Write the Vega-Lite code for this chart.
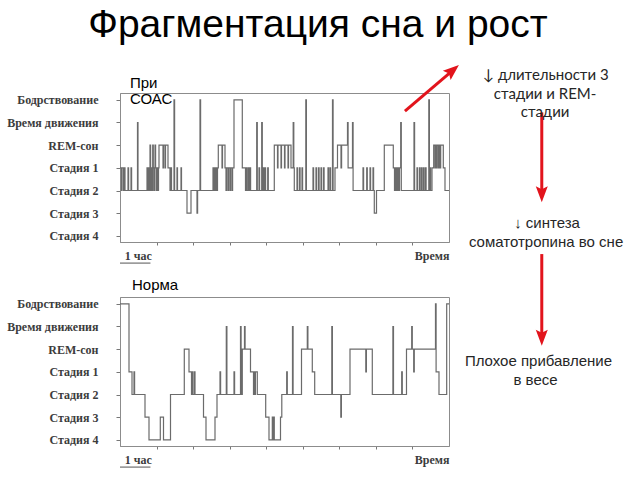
{
  "$schema": "https://vega.github.io/schema/vega-lite/v6.json",
  "background": "white",
  "padding": {"left": 6, "top": 5, "right": 0, "bottom": 0},
  "title": {"text": "Фрагментация сна и рост", "font": "Liberation Sans", "fontSize": 39, "fontWeight": "normal", "color": "#000000", "anchor": "middle", "dx": 3, "offset": 20},
  "bounds": "flush",
  "spacing": 55,
  "config": {
    "view": {"stroke": "#8c8c8c", "strokeWidth": 1},
    "axis": {"grid": false}
  },
  "vconcat": [
    {
      "width": 329,
      "height": 149,
      "resolve": {"scale": {"x": "independent", "y": "independent"}},
      "layer": [
        {
          "encoding": {
            "x": {"field": "t", "type": "quantitative", "scale": {"domain": [0, 540], "nice": false, "zero": false},
              "axis": {"values": [60, 120, 180, 240, 300, 360, 420, 480], "labels": false, "tickSize": 3, "tickColor": "#777777", "domainColor": "#8c8c8c", "title": "Время", "titleAnchor": "end", "titleAlign": "right", "titleFont": "Liberation Serif", "titleFontWeight": "bold", "titleFontSize": 12, "titleColor": "#3c3c3c", "titlePadding": 5}},
            "y": {"field": "s", "type": "quantitative", "scale": {"domain": [-0.3, 6.27], "reverse": true, "nice": false, "zero": false},
              "axis": {"values": [0, 1, 2, 3, 4, 5, 6], "labelExpr": "['Бодрствование','Время движения','REM-сон','Стадия 1','Стадия 2','Стадия 3','Стадия 4'][datum.value]", "labelFont": "Liberation Serif", "labelFontWeight": "bold", "labelFontSize": 12, "labelColor": "#3c3c3c", "labelPadding": 18, "tickSize": 4, "tickColor": "#777777", "domainColor": "#8c8c8c", "title": null}}
          },
          "layer": [
            {
              "data": {"values": [
                {"t":0,"s":3},{"t":2.46,"s":4},{"t":3.28,"s":3},{"t":5.74,"s":4},{"t":6.57,"s":3},{"t":8.21,"s":4},{"t":13.13,"s":3},{"t":14.12,"s":4},{"t":18.05,"s":3},{"t":19.04,"s":4},{"t":28.72,"s":1},{"t":29.54,"s":4},
                {"t":44.32,"s":3},{"t":45.3,"s":4},{"t":46.78,"s":3},{"t":47.93,"s":4},{"t":49.24,"s":2},{"t":50.22,"s":4},{"t":51.7,"s":3},{"t":52.85,"s":4},{"t":53.67,"s":2},{"t":54.66,"s":3},{"t":55.8,"s":4},{"t":56.95,"s":3},{"t":57.45,"s":2},{"t":58.43,"s":3},{"t":59.58,"s":4},{"t":60.73,"s":3},{"t":61.71,"s":4},{"t":63.19,"s":3},
                {"t":64.01,"s":2},{"t":70.58,"s":3},{"t":71.4,"s":2},{"t":73.86,"s":3},{"t":74.68,"s":2},{"t":78.78,"s":3},{"t":82.07,"s":4},{"t":83.71,"s":3},{"t":84.53,"s":4},{"t":88.63,"s":0},{"t":89.62,"s":4},{"t":93.55,"s":3},{"t":94.37,"s":4},{"t":100.12,"s":3},{"t":100.94,"s":4},
                {"t":109.97,"s":5},{"t":116.53,"s":4},{"t":126.38,"s":5},{"t":127.36,"s":4},{"t":131.3,"s":0},{"t":132.29,"s":4},
                {"t":152.64,"s":3},{"t":153.63,"s":4},{"t":155.1,"s":3},{"t":156.09,"s":4},{"t":157.56,"s":3},{"t":158.55,"s":4},{"t":160.03,"s":3},{"t":161.34,"s":2},{"t":167.41,"s":3},{"t":168.23,"s":2},{"t":172.34,"s":3},{"t":173.98,"s":4},{"t":174.96,"s":3},{"t":177.26,"s":4},{"t":178.24,"s":3},{"t":180.54,"s":4},{"t":181.53,"s":3},{"t":183.83,"s":4},{"t":184.81,"s":3},
                {"t":187.11,"s":0},{"t":200.73,"s":3},{"t":205.98,"s":4},{"t":207.29,"s":3},{"t":208.45,"s":4},{"t":210.58,"s":3},{"t":211.73,"s":4},{"t":213.37,"s":3},{"t":214.36,"s":4},{"t":224.37,"s":1},{"t":225.35,"s":4},{"t":228.14,"s":3},{"t":229.13,"s":4},{"t":232.57,"s":1},{"t":233.56,"s":4},{"t":235.2,"s":3},{"t":236.35,"s":4},{"t":237.99,"s":3},{"t":238.97,"s":4},{"t":242.42,"s":3},{"t":243.41,"s":4},
                {"t":253.25,"s":2},{"t":258.51,"s":3},{"t":259.33,"s":2},{"t":264.25,"s":3},{"t":265.07,"s":2},{"t":270,"s":3},{"t":270.82,"s":2},{"t":275.74,"s":3},{"t":276.57,"s":2},{"t":280.67,"s":3},{"t":284.27,"s":1},{"t":285.26,"s":3},{"t":286.08,"s":4},
                {"t":290.51,"s":3},{"t":291.49,"s":4},{"t":294.61,"s":3},{"t":295.6,"s":4},{"t":298.72,"s":3},{"t":299.7,"s":4},{"t":304.96,"s":0},{"t":305.94,"s":4},
                {"t":316.77,"s":3},{"t":317.75,"s":4},{"t":321.69,"s":3},{"t":322.68,"s":4},{"t":325.8,"s":3},{"t":326.78,"s":4},{"t":329.9,"s":3},{"t":330.89,"s":4},{"t":334.01,"s":3},{"t":334.99,"s":4},{"t":341.39,"s":3},{"t":342.38,"s":4},{"t":344.67,"s":3},{"t":345.66,"s":4},{"t":348.78,"s":0},{"t":349.76,"s":4},
                {"t":352.88,"s":3},{"t":356.98,"s":2},{"t":362.73,"s":3},{"t":363.71,"s":2},{"t":373.39,"s":1},{"t":374.38,"s":3},{"t":381.6,"s":1},{"t":382.58,"s":4},
                {"t":398.84,"s":3},{"t":399.82,"s":4},{"t":404.91,"s":3},{"t":405.89,"s":4},{"t":410.33,"s":3},{"t":411.31,"s":4},{"t":415.25,"s":3},{"t":416.24,"s":4},{"t":417.39,"s":5},{"t":421,"s":4},
                {"t":433.8,"s":2},{"t":448.57,"s":3},{"t":450.54,"s":4},{"t":451.36,"s":3},{"t":453,"s":4},{"t":453.82,"s":3},{"t":455.46,"s":4},{"t":456.28,"s":3},{"t":457.92,"s":4},{"t":458.75,"s":3},{"t":460.72,"s":1},{"t":461.7,"s":4},
                {"t":482.54,"s":1},{"t":483.53,"s":4},{"t":487.47,"s":3},{"t":488.45,"s":4},{"t":491.57,"s":3},{"t":492.56,"s":4},{"t":494.85,"s":3},{"t":495.84,"s":4},{"t":498.14,"s":3},{"t":499.12,"s":4},{"t":501.42,"s":3},{"t":502.4,"s":4},{"t":506.84,"s":0},{"t":507.82,"s":4},
                {"t":508.8,"s":3},{"t":509.79,"s":4},{"t":512.09,"s":3},{"t":514.88,"s":2},{"t":517.01,"s":3},{"t":517.83,"s":2},{"t":519.8,"s":3},{"t":520.62,"s":2},{"t":522.76,"s":3},{"t":523.58,"s":2},{"t":525.55,"s":3},{"t":526.37,"s":2},{"t":530.64,"s":3},{"t":533.42,"s":4},{"t":540,"s":4}
              ]},
              "mark": {"type": "line", "interpolate": "step-after", "color": "#6b6b6b", "strokeWidth": 1.2}
            },
            {
              "data": {"values": [{"t": 16.4, "s": -0.75, "label": "При"}, {"t": 16.4, "s": -0.02, "label": "СОАС"}]},
              "mark": {"type": "text", "align": "left", "baseline": "middle", "font": "Liberation Sans", "fontSize": 15, "color": "#000000"},
              "encoding": {"text": {"field": "label"}}
            },
            {
              "data": {"values": [{"t": 30, "s": 6.88, "label": "1 час"}]},
              "mark": {"type": "text", "align": "center", "baseline": "middle", "font": "Liberation Serif", "fontWeight": "bold", "fontSize": 12, "color": "#3c3c3c"},
              "encoding": {"text": {"field": "label"}}
            },
            {
              "data": {"values": [{"t": 0, "t2": 50, "s": 7.2}]},
              "mark": {"type": "rule", "color": "#555555", "strokeWidth": 1},
              "encoding": {"x2": {"field": "t2"}}
            }
          ]
        },
        {
          "encoding": {
            "x": {"field": "h", "type": "quantitative", "scale": {"domain": [0, 100], "nice": false, "zero": false}, "axis": null},
            "y": {"field": "v", "type": "quantitative", "scale": {"domain": [0, 100], "reverse": true, "nice": false, "zero": false}, "axis": null}
          },
          "layer": [
            {
              "data": {"values": [
                {"h": 86.6, "v": 12.1, "h2": 100.7, "v2": -14.4},
                {"h": 128.2, "v": 13.0, "h2": 128.2, "v2": 66.6},
                {"h": 128.2, "v": 108.1, "h2": 128.2, "v2": 162.9}
              ]},
              "mark": {"type": "rule", "color": "#e2141c", "strokeWidth": 3},
              "encoding": {"x2": {"field": "h2"}, "y2": {"field": "v2"}}
            },
            {
              "data": {"values": [
                {"h": 100.7, "v": -14.4, "angle": 49.6},
                {"h": 128.2, "v": 66.6, "angle": 180},
                {"h": 128.2, "v": 162.9, "angle": 180}
              ]},
              "mark": {"type": "point", "shape": "M0,-1L0.6,0.6L0,0.3L-0.6,0.6Z", "filled": true, "color": "#e2141c", "opacity": 1, "size": 400, "strokeWidth": 0},
              "encoding": {"angle": {"field": "angle", "type": "quantitative", "scale": null}}
            },
            {
              "data": {"values": [
                {"h": 129.4, "v": -12.1, "label": "↓ длительности 3"},
                {"h": 129.2, "v": 0.67, "label": "стадии и REM-"},
                {"h": 129.2, "v": 12.75, "label": "стадии"}
              ]},
              "mark": {"type": "text", "align": "center", "baseline": "middle", "font": "Lato", "fontSize": 15, "color": "#262626"},
              "encoding": {"text": {"field": "label"}}
            },
            {
              "data": {"values": [
                {"h": 129.8, "v": 87.2, "label": "↓ синтеза"},
                {"h": 129.5, "v": 100.0, "label": "соматотропина во сне"},
                {"h": 127.2, "v": 179.9, "label": "Плохое прибавление"},
                {"h": 126.3, "v": 192.6, "label": "в весе"}
              ]},
              "mark": {"type": "text", "align": "center", "baseline": "middle", "font": "Liberation Sans", "fontSize": 15, "color": "#262626"},
              "encoding": {"text": {"field": "label"}}
            }
          ]
        }
      ]
    },
    {
      "width": 329,
      "height": 149,
      "encoding": {
        "x": {"field": "t", "type": "quantitative", "scale": {"domain": [0, 540], "nice": false, "zero": false},
          "axis": {"values": [60, 120, 180, 240, 300, 360, 420, 480], "labels": false, "tickSize": 3, "tickColor": "#777777", "domainColor": "#8c8c8c", "title": "Время", "titleAnchor": "end", "titleAlign": "right", "titleFont": "Liberation Serif", "titleFontWeight": "bold", "titleFontSize": 12, "titleColor": "#3c3c3c", "titlePadding": 5}},
        "y": {"field": "s", "type": "quantitative", "scale": {"domain": [-0.3, 6.27], "reverse": true, "nice": false, "zero": false},
          "axis": {"values": [0, 1, 2, 3, 4, 5, 6], "labelExpr": "['Бодрствование','Время движения','REM-сон','Стадия 1','Стадия 2','Стадия 3','Стадия 4'][datum.value]", "labelFont": "Liberation Serif", "labelFontWeight": "bold", "labelFontSize": 12, "labelColor": "#3c3c3c", "labelPadding": 18, "tickSize": 4, "tickColor": "#777777", "domainColor": "#8c8c8c", "title": null}}
      },
      "layer": [
        {
          "data": {"values": [
            {"t":0,"s":0},{"t":14.77,"s":3},{"t":19.7,"s":4},{"t":22.98,"s":3},{"t":23.96,"s":4},{"t":41.03,"s":5},{"t":47.6,"s":6},{"t":66.14,"s":5},{"t":71.4,"s":6},{"t":82.89,"s":4},
            {"t":105.53,"s":2},{"t":113.25,"s":3},{"t":117.35,"s":4},{"t":118.99,"s":3},{"t":119.81,"s":4},{"t":122.28,"s":3},{"t":123.1,"s":4},{"t":137.05,"s":5},{"t":141.15,"s":6},{"t":155.92,"s":5},{"t":159.21,"s":4},
            {"t":164.13,"s":3},{"t":165.12,"s":4},{"t":174.47,"s":1},{"t":175.46,"s":4},{"t":187.11,"s":3},{"t":188.09,"s":4},{"t":197.78,"s":1},{"t":198.76,"s":4},
            {"t":200.73,"s":2},{"t":204.34,"s":1},{"t":205.32,"s":2},{"t":214.19,"s":3},{"t":219.12,"s":4},{"t":219.93,"s":3},{"t":221.58,"s":4},{"t":222.23,"s":3},{"t":225.35,"s":4},
            {"t":239.14,"s":5},{"t":244.55,"s":6},{"t":249.97,"s":5},{"t":250.79,"s":6},{"t":252.43,"s":5},{"t":253.25,"s":6},{"t":263.43,"s":5},{"t":265.56,"s":4},
            {"t":273.6,"s":3},{"t":274.59,"s":4},{"t":283.12,"s":1},{"t":284.1,"s":4},{"t":297.9,"s":2},{"t":307.42,"s":1},{"t":308.41,"s":2},{"t":315.62,"s":3},{"t":319.56,"s":4},
            {"t":347.63,"s":1},{"t":348.62,"s":4},{"t":362.4,"s":5},{"t":363.38,"s":4},{"t":377.5,"s":2},{"t":403.43,"s":3},{"t":404.42,"s":2},{"t":414.1,"s":4},
            {"t":447.91,"s":1},{"t":448.89,"s":4},{"t":462.35,"s":3},{"t":463.34,"s":4},{"t":470.23,"s":2},{"t":478.77,"s":1},{"t":479.76,"s":2},{"t":482.04,"s":3},{"t":483.02,"s":2},
            {"t":517.83,"s":0},{"t":518.82,"s":3},{"t":523.57,"s":4},{"t":536.21,"s":0},{"t":540,"s":0}
          ]},
          "mark": {"type": "line", "interpolate": "step-after", "color": "#6b6b6b", "strokeWidth": 1.2}
        },
        {
          "data": {"values": [{"t": 19.7, "s": -0.81, "label": "Норма"}]},
          "mark": {"type": "text", "align": "left", "baseline": "middle", "font": "Liberation Sans", "fontSize": 15, "color": "#000000"},
          "encoding": {"text": {"field": "label"}}
        },
        {
          "data": {"values": [{"t": 30, "s": 6.88, "label": "1 час"}]},
          "mark": {"type": "text", "align": "center", "baseline": "middle", "font": "Liberation Serif", "fontWeight": "bold", "fontSize": 12, "color": "#3c3c3c"},
          "encoding": {"text": {"field": "label"}}
        },
        {
          "data": {"values": [{"t": 0, "t2": 50, "s": 7.2}]},
          "mark": {"type": "rule", "color": "#555555", "strokeWidth": 1},
          "encoding": {"x2": {"field": "t2"}}
        }
      ]
    }
  ]
}
